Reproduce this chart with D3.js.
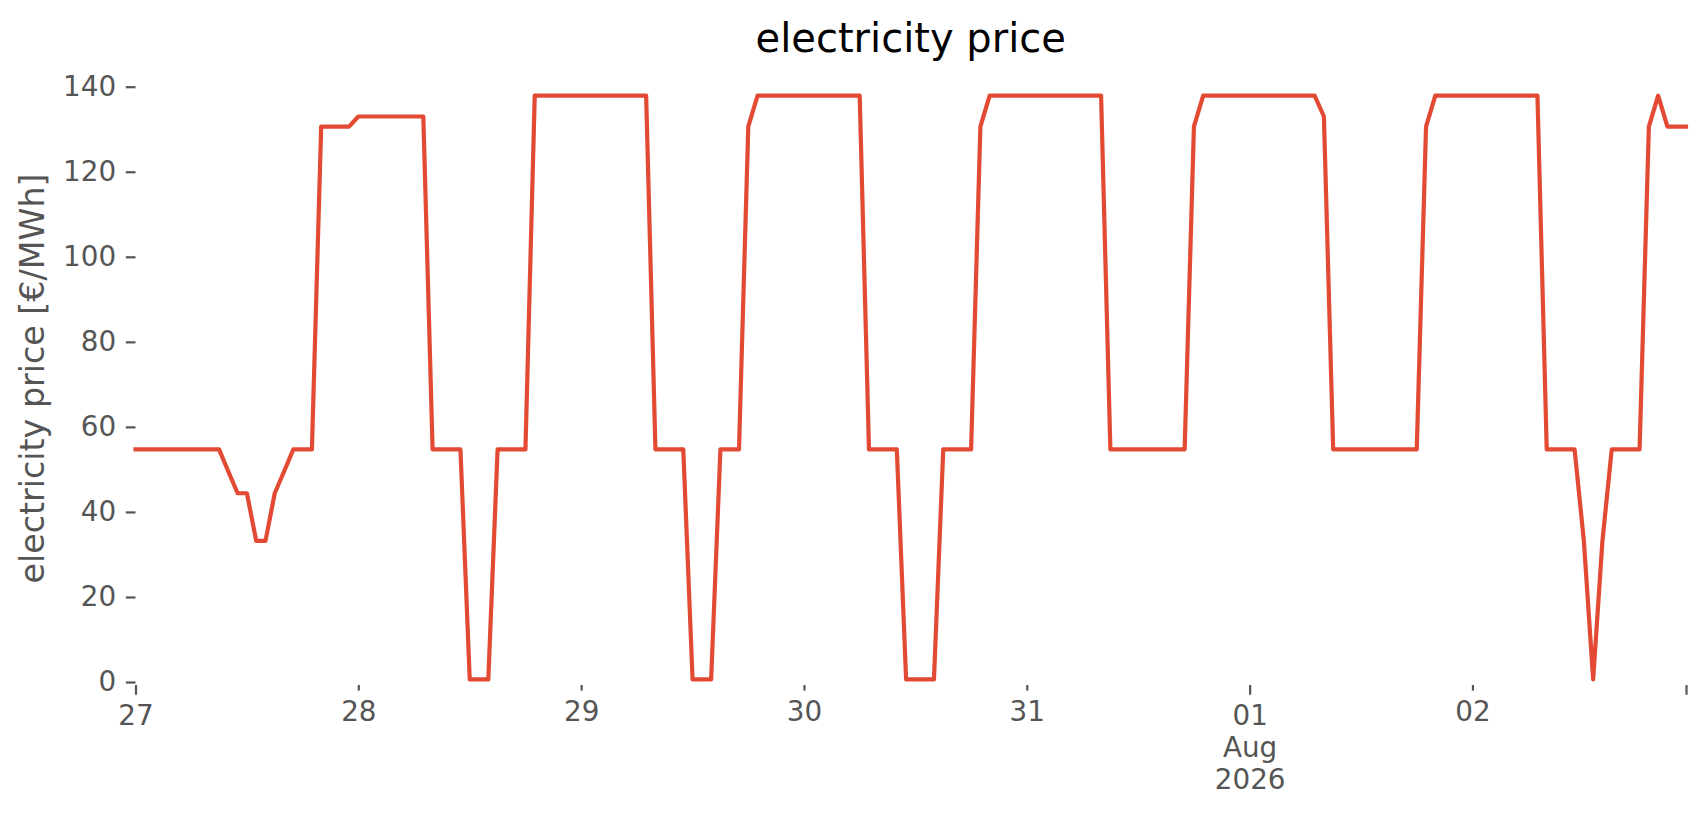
<!DOCTYPE html>
<html>
<head>
<meta charset="utf-8">
<script src="https://cdn.jsdelivr.net/npm/d3@7"></script>
<style>
    body { margin: 0; background: #ffffff; }
    svg { font-family: "DejaVu Sans", sans-serif; }
</style>
</head>
<body>
<div id="chart"></div>
<script>
// hourly prices [€/MWh], one array per day
const startTime = "2026-07-27T00:00:00Z";
const jul27 = [54.7, 54.7, 54.7, 54.7, 54.7, 54.7, 54.7, 54.7, 54.7, 54.7, 49.5, 44.4,
               44.4, 33.2, 33.2, 44.4, 49.5, 54.7, 54.7, 54.7, 130.6, 130.6, 130.6, 130.6];
const jul28 = [133, 133, 133, 133, 133, 133, 133, 133, 54.7, 54.7, 54.7, 54.7,
               0.6, 0.6, 0.6, 54.7, 54.7, 54.7, 54.7, 137.9, 137.9, 137.9, 137.9, 137.9];
const jul29 = [137.9, 137.9, 137.9, 137.9, 137.9, 137.9, 137.9, 137.9, 54.7, 54.7, 54.7, 54.7,
               0.6, 0.6, 0.6, 54.7, 54.7, 54.7, 130.6, 137.9, 137.9, 137.9, 137.9, 137.9];
const jul30 = [137.9, 137.9, 137.9, 137.9, 137.9, 137.9, 137.9, 54.7, 54.7, 54.7, 54.7, 0.6,
               0.6, 0.6, 0.6, 54.7, 54.7, 54.7, 54.7, 130.6, 137.9, 137.9, 137.9, 137.9];
const jul31 = [137.9, 137.9, 137.9, 137.9, 137.9, 137.9, 137.9, 137.9, 137.9, 54.7, 54.7, 54.7,
               54.7, 54.7, 54.7, 54.7, 54.7, 54.7, 130.6, 137.9, 137.9, 137.9, 137.9, 137.9];
const aug01 = [137.9, 137.9, 137.9, 137.9, 137.9, 137.9, 137.9, 137.9, 133, 54.7, 54.7, 54.7,
               54.7, 54.7, 54.7, 54.7, 54.7, 54.7, 54.7, 130.6, 137.9, 137.9, 137.9, 137.9];
const aug02 = [137.9, 137.9, 137.9, 137.9, 137.9, 137.9, 137.9, 137.9, 54.7, 54.7, 54.7, 54.7,
               33.2, 0.6, 33.2, 54.7, 54.7, 54.7, 54.7, 130.6, 137.9, 130.6, 130.6, 130.6];

const yTicks = [0, 20, 40, 60, 80, 100, 120, 140];
const xTickDates = ["2026-07-27T00:00:00Z", "2026-07-28T00:00:00Z", "2026-07-29T00:00:00Z",
                    "2026-07-30T00:00:00Z", "2026-07-31T00:00:00Z", "2026-08-01T00:00:00Z",
                    "2026-08-02T00:00:00Z", "2026-08-02T23:00:00Z"];
const xTickLabels = ["27", "28", "29", "30", "31", "01\nAug\n2026", "02", ""];
const xTickMajor = [true, false, false, false, false, true, false, true];

const width = 1706, height = 815;
const margin = {top: 78, right: 20, bottom: 130, left: 135.5};
const axisY = 685;

const svg = d3.select("#chart").append("svg")
    .attr("width", width)
    .attr("height", height);

// flatten the day arrays into a time series
const t0 = new Date(startTime);
const data = [jul27, jul28, jul29, jul30, jul31, aug01, aug02].flat()
    .map((v, i) => ({time: new Date(t0.getTime() + i * 3600 * 1000), value: v}));

const x = d3.scaleUtc()
    .domain(d3.extent(data, d => d.time))
    .range([margin.left, 1686]);

const y = d3.scaleLinear()
    .domain([-0.7, 142.05])
    .range([axisY, margin.top]);

// title
svg.append("text")
    .attr("x", (x.range()[0] + x.range()[1]) / 2)
    .attr("y", 52)
    .attr("text-anchor", "middle")
    .attr("font-size", 40)
    .attr("fill", "#000")
    .text("electricity price");

// y axis
const yAxis = svg.append("g")
    .attr("transform", "translate(" + margin.left + ",0)")
    .call(d3.axisLeft(y).tickValues(yTicks).tickSize(9.7).tickPadding(9.7));

yAxis.select(".domain").remove();
yAxis.selectAll(".tick line").attr("stroke", "#555555").attr("stroke-width", 2.2);
yAxis.selectAll(".tick text")
    .attr("fill", "#555555")
    .attr("font-size", 27.8)
    .attr("font-family", "DejaVu Sans");

svg.append("text")
    .attr("transform", "translate(44," + ((axisY + margin.top) / 2 - 3) + ") rotate(-90)")
    .attr("text-anchor", "middle")
    .attr("font-size", 33.3)
    .attr("fill", "#555555")
    .text("electricity price [€/MWh]");

// x axis: long ticks for major, short for minor
const labelFor = d => xTickLabels[xTickDates.findIndex(s => +new Date(s) === +d)];
const majorDates = xTickDates.filter((s, i) => xTickMajor[i]).map(s => new Date(s));
const minorDates = xTickDates.filter((s, i) => !xTickMajor[i]).map(s => new Date(s));

[[majorDates, 9.7], [minorDates, 5.6]].forEach(([vals, len]) => {
    const g = svg.append("g")
        .attr("transform", "translate(0," + axisY + ")")
        .call(d3.axisBottom(x).tickValues(vals).tickSize(len).tickPadding(11).tickFormat(labelFor));

    g.select(".domain").remove();
    g.selectAll(".tick line").attr("stroke", "#555555").attr("stroke-width", 2.2);
    g.selectAll(".tick text")
        .attr("fill", "#555555")
        .attr("font-size", 27.8)
        .attr("font-family", "DejaVu Sans")
        .each(function(d) {
            let lines = labelFor(d).split("\n");
            if (lines.length < 2) return;
            let t = d3.select(this).text(null);
            lines.forEach((l, i) => {
                t.append("tspan")
                    .attr("x", 0)
                    .attr("dy", i === 0 ? "0.71em" : 32)
                    .text(l);
            });
        });
});

// price line
const line = d3.line()
    .x(d => x(d.time))
    .y(d => y(d.value));

svg.append("path")
    .datum(data)
    .attr("fill", "none")
    .attr("stroke", "#E24A33")
    .attr("stroke-width", 4.2)
    .attr("stroke-linejoin", "round")
    .attr("stroke-linecap", "square")
    .attr("d", line);
</script>
</body>
</html>
